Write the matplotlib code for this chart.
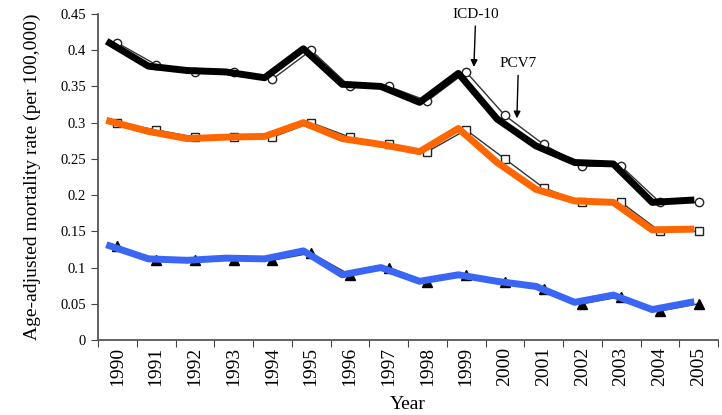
import numpy as np
import matplotlib
matplotlib.use("Agg")
import matplotlib.pyplot as plt

plt.rcParams['font.family'] = ['Liberation Serif', 'DejaVu Serif']

years = [1990, 1991, 1992, 1993, 1994, 1995, 1996, 1997,
         1998, 1999, 2000, 2001, 2002, 2003, 2004, 2005]

# observed rates (markers + thin line)
total = [0.41, 0.38, 0.37, 0.37, 0.36, 0.40, 0.35, 0.35,
         0.33, 0.37, 0.31, 0.27, 0.24, 0.24, 0.19, 0.19]
mid = [0.30, 0.29, 0.28, 0.28, 0.28, 0.30, 0.28, 0.27,
       0.26, 0.29, 0.25, 0.21, 0.19, 0.19, 0.15, 0.15]
low = [0.13, 0.11, 0.11, 0.11, 0.11, 0.12, 0.09, 0.10,
       0.08, 0.09, 0.08, 0.07, 0.05, 0.06, 0.04, 0.05]

# thick overlaid lines
total_fit = [0.41, 0.378, 0.372, 0.37, 0.362, 0.402, 0.353, 0.35,
             0.328, 0.368, 0.305, 0.268, 0.245, 0.243, 0.19, 0.193]
mid_fit = [0.302, 0.288, 0.278, 0.28, 0.281, 0.30, 0.278, 0.27,
           0.26, 0.292, 0.245, 0.208, 0.192, 0.19, 0.152, 0.153]
low_fit = [0.13, 0.112, 0.11, 0.113, 0.112, 0.123, 0.09, 0.10,
           0.081, 0.09, 0.081, 0.074, 0.052, 0.062, 0.042, 0.052]

x = np.arange(len(years))
shift = -0.2

fig = plt.figure(figsize=(7.22, 4.15), dpi=100)
ax = fig.add_axes([98/722, 75/415, 620/722, 326/415])

ax.plot(x, total, color='#333333', lw=1, marker='o', ms=6,
        mfc='white', mec='#222222', mew=1, zorder=2)
ax.plot(x, mid, color='#333333', lw=1, marker='s', ms=6,
        mfc='white', mec='#222222', mew=1, zorder=2)
ax.plot(x, low, color='#333333', lw=1, marker='^', ms=7,
        mfc='black', mec='black', zorder=2)

ax.plot(x + shift, total_fit, color='black', lw=5, solid_joinstyle='round', zorder=3)
ax.plot(x + shift, mid_fit, color='#FF6600', lw=5, solid_joinstyle='round', zorder=3)
ax.plot(x + shift, low_fit, color='#3A66F5', lw=5, solid_joinstyle='round', zorder=3)

# annotations
ax.annotate('ICD-10', xy=(9.2, 0.377), xytext=(9.25, 0.441),
            ha='center', va='bottom', fontsize=11,
            arrowprops=dict(arrowstyle='-|>', color='black', lw=1,
                            mutation_scale=10, shrinkA=2, shrinkB=0))
ax.annotate('PCV7', xy=(10.31, 0.306), xytext=(10.35, 0.373),
            ha='center', va='bottom', fontsize=11,
            arrowprops=dict(arrowstyle='-|>', color='black', lw=1,
                            mutation_scale=10, shrinkA=2, shrinkB=0))

ax.set_xlim(-0.5, len(years) - 0.5)
ax.set_ylim(0, 0.45)
ax.set_yticks(np.arange(0, 0.451, 0.05))
ax.set_yticklabels(['{:g}'.format(round(v, 2)) for v in np.arange(0, 0.451, 0.05)],
                   fontsize=10.5)

ax.set_xticks(np.arange(-0.5, len(years), 1.0))
ax.set_xticklabels([])
ax.set_xticks(x, minor=True)
ax.set_xticklabels([str(y) for y in years], minor=True, rotation=90, fontsize=14)
ax.tick_params(axis='x', which='minor', length=0, pad=5)
ax.tick_params(axis='x', which='major', length=5, color='#444444', direction='out')
ax.tick_params(axis='y', length=5, color='#444444', direction='out')

for s in ['top', 'right']:
    ax.spines[s].set_visible(False)
for s in ['left', 'bottom']:
    ax.spines[s].set_color('#555555')
    ax.spines[s].set_linewidth(1.3)

ax.set_ylabel('Age-adjusted mortality rate (per 100,000)', fontsize=14, labelpad=14)
ax.set_xlabel('Year', fontsize=14, labelpad=7)

fig.savefig('out.png', dpi=100)
